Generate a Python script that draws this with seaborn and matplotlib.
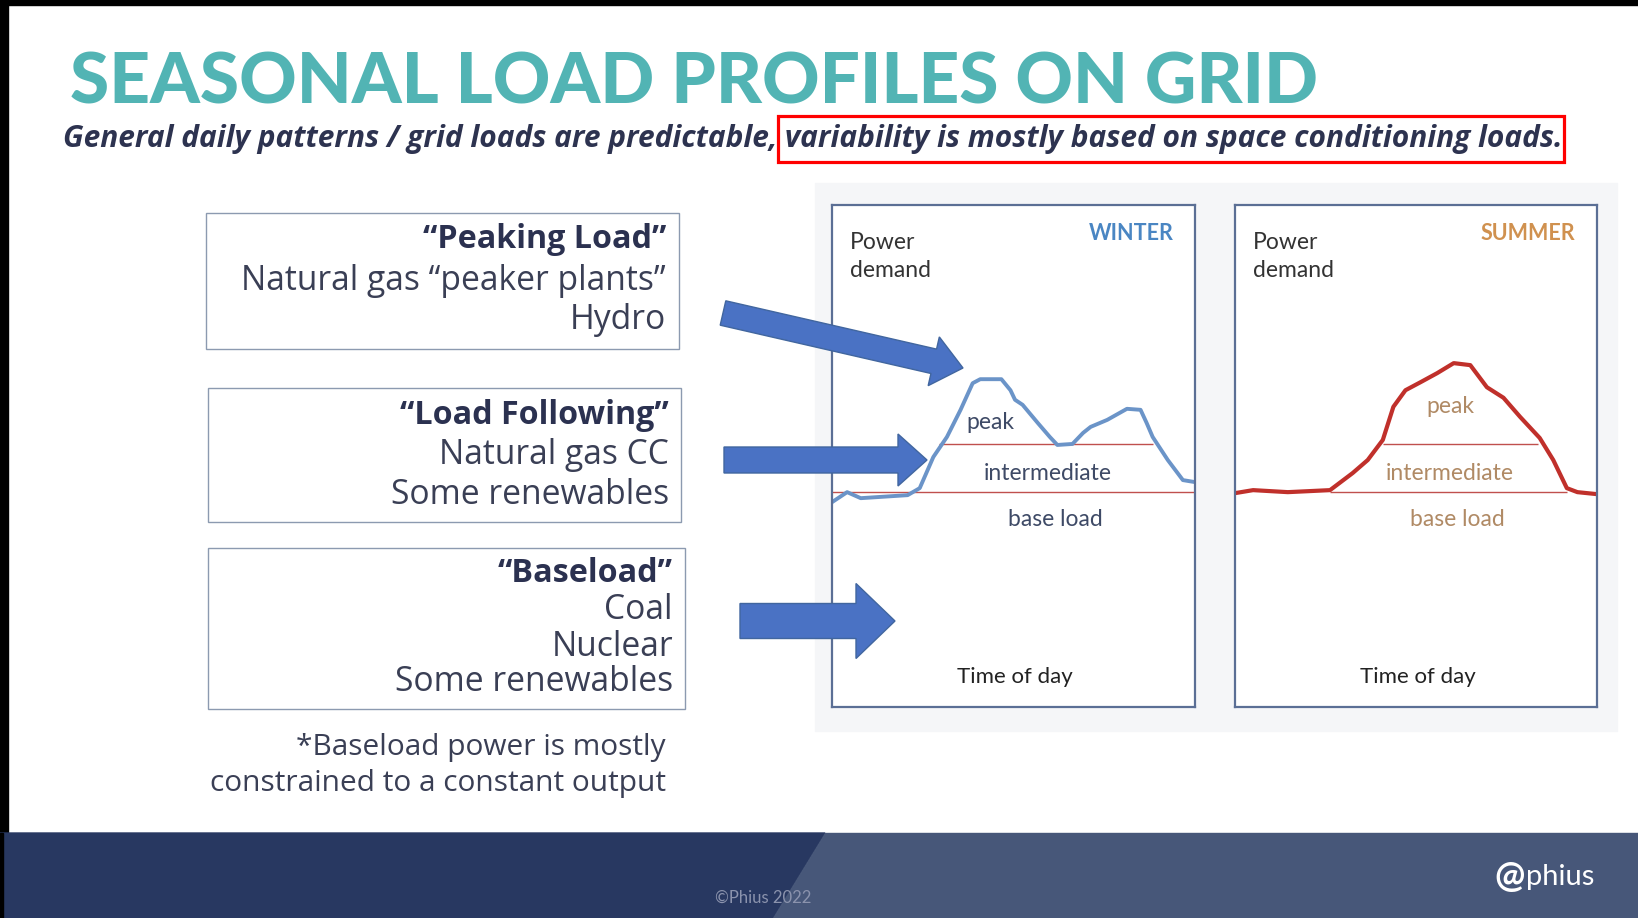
import pandas as pd
import matplotlib.pyplot as plt
import seaborn as sns
from matplotlib.patches import Rectangle, Polygon, FancyArrow

sns.set_theme(style="white")
plt.rcParams['font.family'] = ['Lato', 'DejaVu Sans']

# Daily load curves (hour of day, relative power demand)
winter_hour = [0, 1.0, 1.9, 5.0, 5.8, 6.7, 7.6, 8.5, 9.3, 9.8, 11.2, 11.8, 12.1, 12.6,
               13.6, 14.4, 14.9, 15.9, 16.6, 17.1, 18.2, 19.5, 20.4, 20.8, 21.2, 22.2, 23.2, 24]
winter_demand = [40.8, 42.8, 41.6, 42.2, 43.6, 49.8, 53.8, 59.2, 64.5, 65.3, 65.3, 63.1, 61.2, 60.2,
                 56.6, 53.8, 52.2, 52.4, 54.6, 55.8, 57.2, 59.4, 59.2, 56.6, 53.8, 49.2, 45.2, 44.8]
summer_hour = [0, 1.2, 3.5, 6.3, 7.8, 8.8, 9.8, 10.5, 11.3, 12.3, 13.4, 14.5, 15.6, 16.7,
               17.8, 18.9, 20.2, 21.1, 22.0, 22.7, 24]
summer_demand = [42.6, 43.2, 42.8, 43.2, 46.6, 49.2, 53.2, 59.8, 63.1, 64.7, 66.5, 68.5, 68.1, 63.7,
                 61.6, 57.8, 53.6, 49.2, 43.6, 42.8, 42.4]

# band boundaries: level, start hour, end hour
winter_levels = [42.8, 52.4]
winter_starts = [0, 7.1]
winter_ends = [24, 21.2]
summer_levels = [42.8, 52.4]
summer_starts = [6.3, 9.8]
summer_ends = [22.0, 20.1]

band_labels = ["peak", "intermediate", "base load"]

box_titles = ["\u201cPeaking Load\u201d", "\u201cLoad Following\u201d", "\u201cBaseload\u201d"]
box_lines = [["Natural gas \u201cpeaker plants\u201d", "Hydro"],
             ["Natural gas CC", "Some renewables"],
             ["Coal", "Nuclear", "Some renewables"]]

title = "SEASONAL LOAD PROFILES ON GRID"
subtitle = ("General daily patterns / grid loads are predictable, "
            "variability is mostly based on space conditioning loads.")

W, H = 1638, 918
fig = plt.figure(figsize=(W / 100, H / 100), dpi=100)
fig.patch.set_facecolor("white")

bg = fig.add_axes([0, 0, 1, 1])
bg.set_xlim(0, W)
bg.set_ylim(H, 0)
bg.axis("off")


def px_axes(x0, y0, x1, y1, **kw):
    return fig.add_axes([x0 / W, 1 - y1 / H, (x1 - x0) / W, (y1 - y0) / H], **kw)


# frame, footer
bg.add_patch(Rectangle((0, 0), W, 5, color="black"))
bg.add_patch(Rectangle((0, 0), 8, 833, color="black"))
bg.add_patch(Polygon([(0, 833), (825, 833), (773, H), (0, H)], color="#283861"))
bg.add_patch(Polygon([(825, 833), (W, 833), (W, H), (773, H)], color="#475779"))
bg.add_patch(Rectangle((0, 833), 3, 85, color="black"))
bg.text(763, 898, "\u00a9Phius 2022", ha="center", va="center", fontsize=12, color="#8b93ad")
bg.text(1510, 877, "@", ha="center", va="center", fontsize=26, color="white", weight="bold")
bg.text(1526, 877, "phius", ha="left", va="center", fontsize=21, color="white")

# titles
bg.text(70, 104, title, fontsize=51.2, weight="black", color="#52b4b4", va="baseline")
bg.text(63, 147, subtitle, fontsize=21.5, weight="bold", style="italic",
        color="#2d3350", va="baseline", family=["Open Sans", "DejaVu Sans"])
bg.add_patch(Rectangle((778, 116), 786, 46, fill=False, ec="#ff0000", lw=2.3))

# left text boxes
box_font = ["Open Sans", "DejaVu Sans"]
box_rects = [(206, 213, 679, 349), (208, 388, 681, 522), (208, 548, 685, 709)]
text_right = [666, 669, 673]
line_y = [[240, 281, 320], [415, 455, 495], [574, 610, 647, 682]]
for (x0, y0, x1, y1), xr, ys, t, lines in zip(box_rects, text_right, line_y, box_titles, box_lines):
    bg.add_patch(Rectangle((x0, y0), x1 - x0, y1 - y0, fill=False, ec="#8c9ab0", lw=1))
    bg.text(xr, ys[0], t, ha="right", va="center", fontsize=23.2, weight="bold",
            color="#2b3150", family=box_font)
    for y, s in zip(ys[1:], lines):
        bg.text(xr, y, s, ha="right", va="center", fontsize=24.2, color="#3a3f55",
                family=box_font)
bg.text(666, 747, "*Baseload power is mostly", ha="right", va="center",
        fontsize=21.5, color="#3a3f55", family=box_font)
bg.text(666, 784, "constrained to a constant output", ha="right", va="center",
        fontsize=21.5, color="#3a3f55", family=box_font)

# grey panel behind charts
bg.add_patch(Rectangle((815, 183), 802, 548, color="#f5f6f8"))


def draw_profile(ax, hours, demand, color, lw, levels, starts, ends, season, season_color,
                 label_color, label_pos):
    ax.set_facecolor("white")
    df = pd.DataFrame({"hour": hours, "demand": demand})
    ax.hlines(levels, starts, ends, color="#c0504d", lw=1)
    sns.lineplot(data=df, x="hour", y="demand", ax=ax, color=color, lw=lw, sort=False)
    ax.set_xlim(0, 24)
    ax.set_ylim(0, 100)
    ax.set_xticks([])
    ax.set_yticks([])
    ax.set_xlabel("")
    ax.set_ylabel("")
    for sp in ax.spines.values():
        sp.set_color("#5b6f95")
        sp.set_linewidth(1.6)
    tr = ax.transAxes
    ax.text(0.05, 0.926, "Power", transform=tr, ha="left", va="center", fontsize=16.5, color="#333333")
    ax.text(0.05, 0.870, "demand", transform=tr, ha="left", va="center", fontsize=16.5, color="#333333")
    ax.text(0.94, 0.944, season, transform=tr, ha="right", va="center", fontsize=15.5,
            weight="bold", color=season_color)
    for (x, y), s in zip(label_pos, band_labels):
        ax.text(x, y, s, transform=tr, ha="center", va="center", fontsize=16.5, color=label_color)
    ax.text(0.505, 0.060, "Time of day", transform=tr, ha="center", va="center",
            fontsize=16, color="#222222")


ax_w = px_axes(832, 205, 1195, 707, zorder=2)
draw_profile(ax_w, winter_hour, winter_demand, "#6b94c8", 2.8, winter_levels, winter_starts,
             winter_ends, "WINTER", "#4a86c3", "#3e4a66",
             [(0.435, 0.566), (0.595, 0.466), (0.614, 0.373)])

ax_s = px_axes(1235, 205, 1597, 707, zorder=2)
draw_profile(ax_s, summer_hour, summer_demand, "#c0302b", 3.0, summer_levels, summer_starts,
             summer_ends, "SUMMER", "#d0914f", "#b08a65",
             [(0.594, 0.598), (0.594, 0.466), (0.613, 0.373)])

# block arrows on top
top = fig.add_axes([0, 0, 1, 1], zorder=5)
top.set_xlim(0, W)
top.set_ylim(H, 0)
top.patch.set_alpha(0)
top.axis("off")
arrows = [((723, 313), (963, 368), 25, 50, 30),
          ((724, 460), (927, 460), 26, 52, 29),
          ((740, 621), (895, 621), 35, 75, 39)]
for (x0, y0), (x1, y1), w, hw, hl in arrows:
    top.add_patch(FancyArrow(x0, y0, x1 - x0, y1 - y0, width=w, head_width=hw, head_length=hl,
                             length_includes_head=True, fc="#4a72c4", ec="#41669f", lw=1))

fig.savefig("out.png", dpi=100)
